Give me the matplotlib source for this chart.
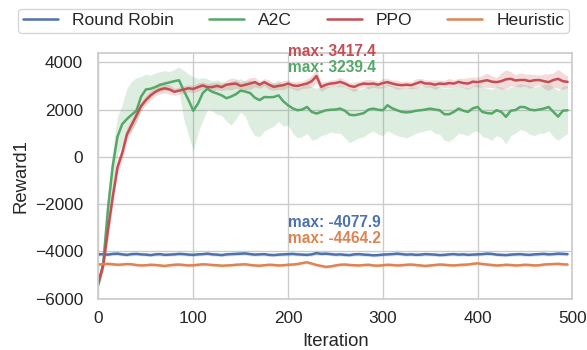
import matplotlib
matplotlib.use('Agg')
import numpy as np
import matplotlib.pyplot as plt
import seaborn as sns

# iterations sampled every 5 steps
iterations = list(range(0, 500, 5))

round_robin = [
    -4130, -4120, -4140, -4110, -4100, -4130, -4150, -4120, -4110, -4130,
    -4140, -4160, -4130, -4120, -4150, -4140, -4130, -4110, -4120, -4140,
    -4150, -4130, -4120, -4100, -4130, -4140, -4160, -4130, -4120, -4110,
    -4100, -4090, -4120, -4140, -4130, -4120, -4150, -4160, -4140, -4130,
    -4120, -4110, -4130, -4140, -4150, -4130, -4077.9, -4110, -4100, -4120,
    -4140, -4130, -4150, -4160, -4130, -4120, -4140, -4150, -4170, -4160,
    -4140, -4130, -4120, -4100, -4120, -4140, -4130, -4150, -4140, -4120,
    -4130, -4140, -4160, -4150, -4130, -4120, -4140, -4130, -4150, -4140,
    -4130, -4120, -4100, -4110, -4140, -4150, -4160, -4140, -4130, -4120,
    -4140, -4150, -4130, -4120, -4110, -4130, -4120, -4100, -4110, -4120]

heuristic = [
    -4560, -4540, -4530, -4550, -4570, -4560, -4540, -4550, -4580, -4600,
    -4590, -4570, -4580, -4600, -4620, -4590, -4570, -4560, -4580, -4600,
    -4590, -4570, -4550, -4560, -4580, -4590, -4610, -4600, -4590, -4570,
    -4560, -4550, -4580, -4600, -4610, -4590, -4570, -4580, -4600, -4590,
    -4570, -4560, -4540, -4500, -4464.2, -4520, -4580, -4620, -4660, -4640,
    -4600, -4570, -4560, -4580, -4590, -4600, -4580, -4570, -4600, -4610,
    -4590, -4570, -4580, -4600, -4590, -4570, -4560, -4580, -4600, -4620,
    -4600, -4580, -4560, -4570, -4590, -4600, -4580, -4570, -4560, -4530,
    -4510, -4540, -4560, -4580, -4600, -4590, -4570, -4580, -4600, -4590,
    -4570, -4580, -4600, -4590, -4560, -4550, -4540, -4530, -4550, -4560]

a2c_mean = [
    -5400, -4500, -2200, -400, 850, 1380, 1600, 1780, 1950, 2550,
    2850, 2880, 2950, 3050, 3100, 3150, 3200, 3239.4, 2800, 2400,
    1950, 2250, 2700, 2880, 2750, 2680, 2600, 2480, 2550, 2650,
    2800, 2760, 2700, 2500, 2400, 2530, 2520, 2530, 2600, 2350,
    2180, 2050, 1970, 2000, 2110, 1900, 1830, 1900, 1970, 1990,
    2000, 2040, 1950, 1780, 1760, 1800, 1850, 2000, 2040, 1990,
    1970, 2180, 2050, 1970, 1900, 1880, 1900, 1950, 1970, 2000,
    2040, 2000, 1970, 1800, 1800, 1900, 2040, 1950, 1900, 2050,
    2110, 1900, 1850, 1830, 1970, 1900, 1690, 1950, 1980, 2110,
    2100, 2000, 1970, 2000, 2040, 2110, 1900, 1700, 1950, 1970]

a2c_low = [
    -5500, -4900, -2900, -1300, 100, 500, 850, 1100, 1450, 2000,
    2300, 2500, 2700, 2750, 2800, 2800, 2850, 2750, 1600, 900,
    250, 1000, 1550, 2000, 1950, 1800, 1750, 1500, 1350, 1600,
    1900, 1700, 1200, 900, 850, 1100, 1200, 1300, 1500, 1300,
    1350, 1000, 800, 850, 1000, 700, 750, 900, 950, 1050,
    1000, 1000, 800, 600, 700, 800, 850, 1000, 1100, 950,
    900, 1100, 1000, 900, 850, 800, 900, 1000, 1050, 1100,
    1150, 1000, 950, 700, 650, 800, 1000, 950, 900, 1050,
    1100, 850, 800, 700, 900, 800, 550, 900, 1000, 1150,
    1100, 950, 900, 1000, 1000, 1100, 850, 700, 850, 1000]

a2c_high = [
    -5300, -4000, -1500, 300, 1700, 2200, 2900, 3200, 3350, 3400,
    3500, 3450, 3550, 3600, 3650, 3600, 3700, 3800, 3650, 3500,
    3400, 3300, 3350, 3300, 3200, 3250, 3200, 3100, 3200, 3250,
    3300, 3200, 3250, 3150, 3050, 3150, 3100, 3150, 3250, 3050,
    3000, 2950, 2900, 3000, 3100, 2950, 2900, 3000, 3000, 2950,
    3000, 3050, 2950, 2900, 2900, 2850, 2900, 3000, 3050, 3000,
    2950, 3100, 3000, 2950, 2900, 2900, 2950, 2950, 3000, 3000,
    3050, 3000, 2950, 2900, 2900, 2950, 3050, 2950, 2900, 3000,
    3100, 2950, 2900, 2850, 3000, 2950, 2850, 2950, 3000, 3100,
    3050, 3000, 2950, 3000, 3050, 3100, 2950, 2800, 3000, 3000]

ppo_mean = [
    -5300, -4600, -3100, -1700, -450, 150, 950, 1350, 1750, 2150,
    2400, 2600, 2750, 2850, 2900, 2850, 2750, 2800, 2850, 2900,
    2870, 2950, 3020, 2950, 2950, 3000, 2950, 3050, 3080, 3100,
    3000, 3050, 3100, 3160, 3050, 3160, 3050, 2960, 3000, 3030,
    3100, 3020, 3000, 3050, 3100, 3200, 3417.4, 2960, 3050, 3100,
    3120, 3170, 3100, 3000, 2960, 3050, 3100, 3080, 3100, 3050,
    3120, 3160, 3100, 3050, 3030, 3050, 3030, 3100, 3170, 3100,
    3100, 3050, 3100, 3080, 3120, 3100, 3170, 3120, 3100, 3180,
    3160, 3200, 3240, 3180, 3160, 3200, 3280, 3300, 3230, 3250,
    3250, 3200, 3240, 3250, 3200, 3160, 3250, 3300, 3200, 3170]

ppo_spread = [
    150, 250, 400, 400, 350, 300, 300, 250, 250, 200,
    200, 200, 180, 180, 200, 200, 150, 150, 150, 150,
    150, 180, 150, 150, 200, 150, 150, 200, 250, 200,
    150, 200, 250, 200, 150, 150, 200, 150, 150, 200,
    150, 150, 200, 150, 200, 250, 300, 200, 150, 150,
    150, 200, 150, 150, 200, 150, 150, 200, 150, 150,
    200, 150, 150, 200, 150, 150, 150, 200, 150, 150,
    150, 200, 150, 150, 200, 150, 150, 200, 250, 200,
    200, 250, 300, 250, 200, 350, 400, 300, 250, 300,
    250, 300, 250, 200, 300, 350, 300, 400, 350, 250]

rr_spread = 70
heuristic_spread = 70

labels = ['Round Robin', 'A2C', 'PPO', 'Heuristic']
# text spots for the max labels (x, y)
max_text_pos = [(200, -2790), (200, 3760), (200, 4460), (200, -3440)]

sns.set_theme(style='whitegrid')
plt.rcParams['font.family'] = ['Liberation Sans', 'DejaVu Sans']
colors = sns.color_palette('deep')
series_colors = [colors[0], colors[2], colors[3], colors[1]]

fig = plt.figure(figsize=(5.87, 3.5), dpi=100)
ax = fig.add_axes([0.1678, 0.147, 0.8072, 0.7007])

x = np.array(iterations)
rr = np.array(round_robin)
heur = np.array(heuristic)
ppo = np.array(ppo_mean)
ppo_sd = np.array(ppo_spread)

ax.fill_between(x, rr - rr_spread, rr + rr_spread, color=series_colors[0],
                alpha=0.2, linewidth=0)
ax.plot(x, rr, color=series_colors[0], lw=1.8, label=labels[0])

ax.fill_between(x, a2c_low, a2c_high, color=series_colors[1], alpha=0.2,
                linewidth=0)
ax.plot(x, a2c_mean, color=series_colors[1], lw=1.8, label=labels[1])

ax.fill_between(x, ppo - ppo_sd, ppo + ppo_sd, color=series_colors[2],
                alpha=0.2, linewidth=0)
ax.plot(x, ppo, color=series_colors[2], lw=1.8, label=labels[2])

ax.fill_between(x, heur - heuristic_spread, heur + heuristic_spread,
                color=series_colors[3], alpha=0.2, linewidth=0)
ax.plot(x, heur, color=series_colors[3], lw=1.8, label=labels[3])

all_series = [round_robin, a2c_mean, ppo_mean, heuristic]
for i in range(4):
    best = max(all_series[i])
    ax.text(max_text_pos[i][0], max_text_pos[i][1], 'max: {:.1f}'.format(best),
            color=series_colors[i], fontsize=11.2, fontweight='bold',
            ha='left', va='center')

ax.set_xlim(0, 500)
ax.set_ylim(-6000, 4380)
ax.set_xticks([0, 100, 200, 300, 400, 500])
ax.set_yticks([-6000, -4000, -2000, 0, 2000, 4000])
ax.tick_params(axis='both', labelsize=12.4, length=0)
ax.tick_params(axis='x', pad=9)
ax.tick_params(axis='y', pad=11)
ax.set_xlabel('Iteration', fontsize=13.3, labelpad=5)
ax.set_ylabel('Reward1', fontsize=13.3)

leg = fig.legend(loc='lower center', bbox_to_anchor=(0.5, 0.882), ncol=4,
                 fontsize=12.6, frameon=True, borderpad=0.25)
for line in leg.get_lines():
    line.set_linewidth(1.8)

fig.savefig('out.png', dpi=100)
